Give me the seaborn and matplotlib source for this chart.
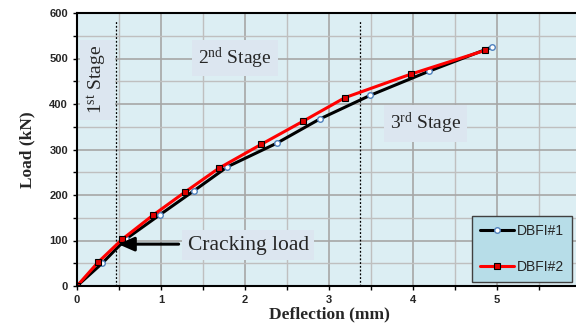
import matplotlib
matplotlib.use("Agg")
import matplotlib.pyplot as plt
import seaborn as sns
import pandas as pd
from matplotlib.ticker import MultipleLocator

# Data
x1 = [0, 0.30, 0.58, 0.99, 1.39, 1.79, 2.38, 2.89, 3.49, 4.19, 4.94]
y1 = [0, 50, 103, 157, 209, 262, 314, 367, 419, 472, 525]
x2 = [0, 0.25, 0.54, 0.90, 1.29, 1.69, 2.19, 2.69, 3.19, 3.98, 4.86]
y2 = [0, 52, 103, 155, 207, 259, 311, 362, 414, 466, 518]
series = ["DBFI#1", "DBFI#2"]
x_ticks = [0, 1, 2, 3, 4, 5]
stage_lines = [0.47, 3.37]

df = pd.concat([
    pd.DataFrame({"x": x1, "y": y1, "s": series[0]}),
    pd.DataFrame({"x": x2, "y": y2, "s": series[1]}),
])

sns.set_style("white")
plt.rcParams["font.family"] = ["Liberation Sans", "DejaVu Sans"]
plt.rcParams["mathtext.fontset"] = "custom"
plt.rcParams["mathtext.rm"] = "Liberation Serif"
plt.rcParams["mathtext.it"] = "Liberation Serif:italic"
plt.rcParams["mathtext.bf"] = "Liberation Serif:bold"

fig = plt.figure(figsize=(5.76, 3.23), dpi=100)
ax = fig.add_axes([77/576, 37/323, 504/576, 273/323])
ax.set_facecolor("#DCEEF3")

sns.lineplot(data=df[df.s == series[0]], x="x", y="y", color="black", lw=2.2,
             marker="o", markersize=4, markerfacecolor="white",
             markeredgecolor="#4F81BD", markeredgewidth=1, ax=ax, label=series[0],
             sort=False, estimator=None)
sns.lineplot(data=df[df.s == series[1]], x="x", y="y", color="#FF0000", lw=2.2,
             marker="s", markersize=4.5, markerfacecolor="#E00000",
             markeredgecolor="black", markeredgewidth=0.8, ax=ax, label=series[1],
             sort=False, estimator=None)

ax.set_xlim(0, 6)
ax.set_ylim(0, 600)
ax.set_xticks(x_ticks)
ax.xaxis.set_minor_locator(MultipleLocator(0.5))
ax.yaxis.set_major_locator(MultipleLocator(100))
ax.yaxis.set_minor_locator(MultipleLocator(50))
ax.grid(which="major", color="#A6A6A6", lw=1.2)
ax.grid(which="minor", color="#BFBFBF", lw=1.0)
ax.set_axisbelow(True)
ax.tick_params(which="both", direction="out", length=3, width=1, color="black",
               left=True, bottom=True, labelsize=8)
for lab in ax.get_xticklabels() + ax.get_yticklabels():
    lab.set_fontweight("bold")
for sp in ["left", "bottom", "top"]:
    ax.spines[sp].set_color("black")
    ax.spines[sp].set_linewidth(1.5)
ax.spines["right"].set_visible(False)

ax.set_xlabel("Deflection (mm)", family="Liberation Serif", fontweight="bold",
              fontsize=12.5, labelpad=1)
ax.set_ylabel("Load (kN)", family="Liberation Serif", fontweight="bold",
              fontsize=12.5, labelpad=10)

for xv in stage_lines:
    ax.plot([xv, xv], [0, 585], ls=(0, (1.5, 1.5)), color="black", lw=0.9,
            zorder=1.5)

box = dict(boxstyle="square,pad=0.3", fc="#DCE6F0", ec="none")
ax.text(0.24, 453, "1$^{\\rm st}$ Stage", rotation=90, ha="center", va="center",
        family="Liberation Serif", fontsize=14, bbox=box, zorder=1.4)
ax.text(1.88, 501, "2$^{\\rm nd}$ Stage", ha="center", va="center",
        family="Liberation Serif", fontsize=14, bbox=box)
ax.text(4.15, 358, "3$^{\\rm rd}$ Stage", ha="center", va="center",
        family="Liberation Serif", fontsize=14, bbox=box)
ax.text(2.04, 90, "Cracking load", ha="center", va="center",
        family="Liberation Serif", fontsize=15.5,
        bbox=dict(boxstyle="square,pad=0.25", fc="#DCE6F0", ec="none"))
ax.annotate("", xy=(0.49, 92), xytext=(1.21, 92),
            arrowprops=dict(arrowstyle="-|>,head_length=0.8,head_width=0.35",
                            color="black", lw=2.2, mutation_scale=12,
                            shrinkA=0, shrinkB=0))

leg = ax.legend(loc="lower left", bbox_to_anchor=(0.784, 0.015),
                frameon=True, fontsize=10, handlelength=2.4,
                borderpad=0.6, labelspacing=1.55, handletextpad=0.2,
                borderaxespad=0)
leg.get_frame().set_facecolor("#B7DDE8")
leg.get_frame().set_edgecolor("#404040")
leg.get_frame().set_alpha(1)
leg.get_frame().set_boxstyle("square", pad=0)

fig.savefig("out.png", dpi=100)
